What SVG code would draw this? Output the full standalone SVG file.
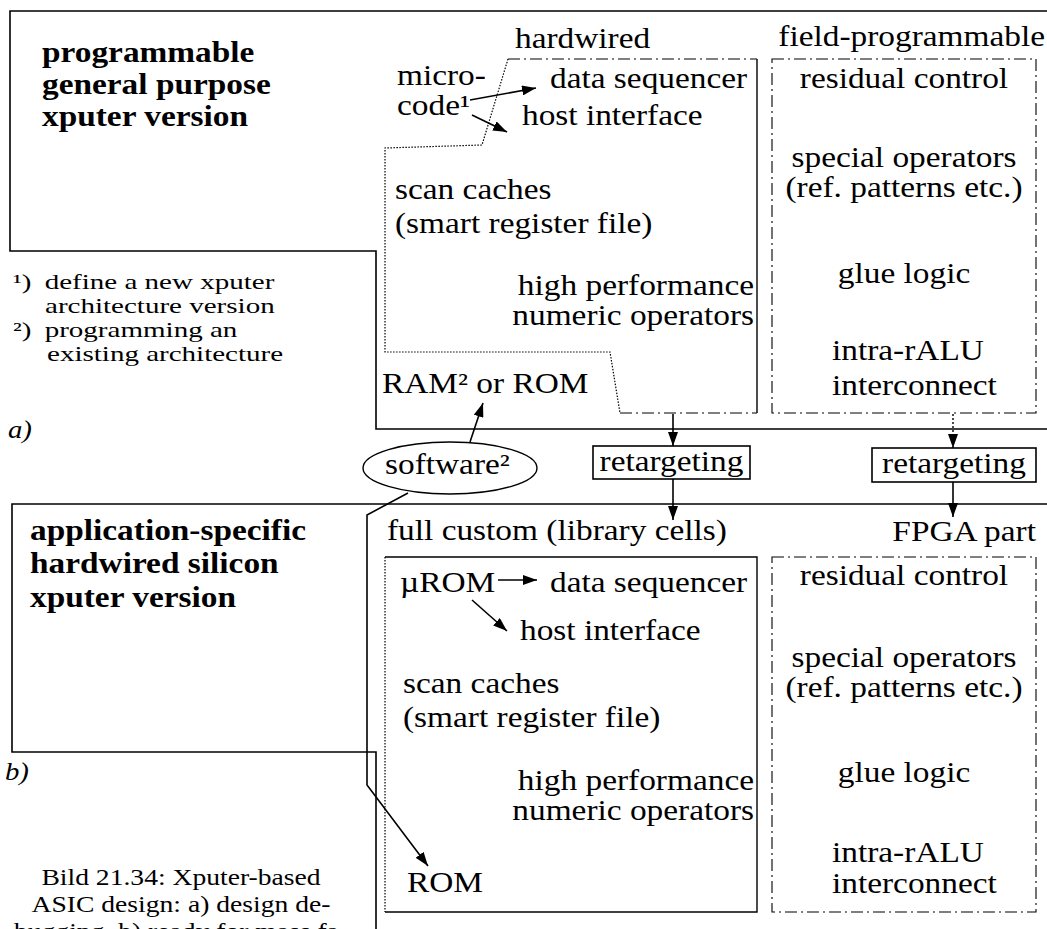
<svg xmlns="http://www.w3.org/2000/svg" width="1047" height="929" viewBox="0 0 1047 929">
<defs>
<marker id="ah" viewBox="0 0 14 10" refX="14" refY="5" markerWidth="14" markerHeight="10" markerUnits="userSpaceOnUse" orient="auto">
<path d="M0,0 L14,5 L0,10 z" fill="#000"/>
</marker>
<style>
text{font-family:"Liberation Serif","Times New Roman",serif;fill:#000;transform:scaleX(1.15);transform-box:fill-box;transform-origin:0% 50%}
text[text-anchor="end"]{transform-origin:100% 50%}
text[text-anchor="middle"]{transform-origin:50% 50%}
.l{font-size:29px}
.b{font-size:29px;font-weight:bold}
.f{font-size:22px;transform:scaleX(1.32)}
.c{font-size:24px}
.i{font-size:25px;font-style:italic}
.region{fill:none;stroke:#000;stroke-width:1.6}
.solid{fill:none;stroke:#000;stroke-width:1.4}
.dot{fill:none;stroke:#000;stroke-width:1.2;stroke-dasharray:1.5 1.5}
.dd{fill:none;stroke:#000;stroke-width:1.1;stroke-dasharray:12 4 2 4}
.conn{fill:none;stroke:#000;stroke-width:1.6}
.conn-dot{fill:none;stroke:#000;stroke-width:1.4;stroke-dasharray:2 2}
.box{fill:#fff;stroke:#000;stroke-width:1.6}
</style>
</defs>
<rect width="1047" height="929" fill="#fff"/>

<!-- a) programmable version -->
<g id="region-a">
<polyline class="region" points="1047,11 10,11 10,251 376,251 376,429 1047,429"/>
<text class="b" x="42" y="62">programmable</text>
<text class="b" x="42" y="94">general purpose</text>
<text class="b" x="42" y="126">xputer version</text>
<text class="i" x="8" y="438">a)</text>
</g>

<g id="hardwired-a">
<path class="dot" d="M508,59 L482,145 L385,148 L385,352 L610,352 L620,413"/>
<path class="dd" d="M508,59 H757 M620,413 H757"/>
<path class="solid" d="M757,59 V413"/>
<text class="l" x="515" y="48">hardwired</text>
<text class="l" x="397" y="85">micro-</text>
<text class="l" x="397" y="115">code¹</text>
<text class="l" x="550" y="88">data sequencer</text>
<text class="l" x="522" y="125">host interface</text>
<text class="l" x="395" y="199">scan caches</text>
<text class="l" x="395" y="233">(smart register file)</text>
<text class="l" x="754" y="295" text-anchor="end">high performance</text>
<text class="l" x="754" y="325" text-anchor="end">numeric operators</text>
<text class="l" x="382" y="393">RAM² or ROM</text>
</g>

<g id="field-programmable-a">
<rect class="dd" x="772" y="59" width="264" height="354"/>
<text class="l" x="1045" y="46" text-anchor="end">field-programmable</text>
<text class="l" x="904" y="88" text-anchor="middle">residual control</text>
<text class="l" x="904" y="167" text-anchor="middle">special operators</text>
<text class="l" x="904" y="197" text-anchor="middle">(ref. patterns etc.)</text>
<text class="l" x="904" y="283" text-anchor="middle">glue logic</text>
<text class="l" x="832" y="360">intra-rALU</text>
<text class="l" x="832" y="395">interconnect</text>
</g>

<g id="footnotes">
<text class="f" x="13" y="289">¹)<tspan x="37">define a new xputer</tspan></text>
<text class="f" x="45" y="313">architecture version</text>
<text class="f" x="13" y="337">²)<tspan x="37">programming an</tspan></text>
<text class="f" x="47" y="361">existing architecture</text>
</g>

<!-- transition between a) and b) -->
<g id="software">
<ellipse class="solid" cx="450" cy="468" rx="87" ry="26"/>
<text class="l" x="385" y="474">software²</text>
</g>

<g id="retargeting-1">
<rect class="box" x="593" y="446" width="157" height="33"/>
<text class="l" x="671.5" y="471" text-anchor="middle">retargeting</text>
</g>

<g id="retargeting-2">
<rect class="box" x="872" y="448" width="164" height="34"/>
<text class="l" x="954" y="473" text-anchor="middle">retargeting</text>
</g>

<!-- b) application-specific version -->
<g id="region-b">
<polyline class="region" points="1047,504 12,504 12,752 376,752 376,929"/>
<text class="b" x="30" y="540">application-specific</text>
<text class="b" x="30" y="573">hardwired silicon</text>
<text class="b" x="30" y="607">xputer version</text>
<text class="i" x="5" y="780">b)</text>
</g>

<g id="full-custom-b">
<path class="dot" d="M385,557 V912"/>
<path class="solid" d="M385,557 H757 V912 H385"/>
<text class="l" x="387" y="540">full custom (library cells)</text>
<text class="l" x="400" y="592">µROM</text>
<text class="l" x="550" y="592">data sequencer</text>
<text class="l" x="520" y="640">host interface</text>
<text class="l" x="403" y="693">scan caches</text>
<text class="l" x="403" y="727">(smart register file)</text>
<text class="l" x="754" y="790" text-anchor="end">high performance</text>
<text class="l" x="754" y="820" text-anchor="end">numeric operators</text>
<text class="l" x="407" y="892">ROM</text>
</g>

<g id="fpga-b">
<rect class="dd" x="772" y="557" width="264" height="355"/>
<text class="l" x="1036" y="541" text-anchor="end">FPGA part</text>
<text class="l" x="904" y="585" text-anchor="middle">residual control</text>
<text class="l" x="904" y="667" text-anchor="middle">special operators</text>
<text class="l" x="904" y="697" text-anchor="middle">(ref. patterns etc.)</text>
<text class="l" x="904" y="782" text-anchor="middle">glue logic</text>
<text class="l" x="832" y="862">intra-rALU</text>
<text class="l" x="832" y="893">interconnect</text>
</g>

<g id="caption">
<text class="c" x="181" y="885" text-anchor="middle">Bild 21.34: Xputer-based</text>
<text class="c" x="181" y="912" text-anchor="middle">ASIC design: a) design de-</text>
<text class="c" x="181" y="939" text-anchor="middle">bugging, b) ready for mass fa-</text>
</g>

<g id="connectors">
<path class="conn" d="M470,100 L536,88" marker-end="url(#ah)"/>
<path class="conn" d="M472,115 L507,132" marker-end="url(#ah)"/>
<path class="conn" d="M470,442 L483,403" marker-end="url(#ah)"/>
<path class="conn" d="M673,414 V446" marker-end="url(#ah)"/>
<path class="conn" d="M673,479 V520" marker-end="url(#ah)"/>
<path class="conn-dot" d="M953,414 V448" marker-end="url(#ah)"/>
<path class="conn" d="M953,482 V517" marker-end="url(#ah)"/>
<path class="conn" d="M408,493 L367,515 V785 L428,866" marker-end="url(#ah)"/>
<path class="conn" d="M498,580 H537" marker-end="url(#ah)"/>
<path class="conn" d="M472,600 L507,631" marker-end="url(#ah)"/>
</g>
</svg>
